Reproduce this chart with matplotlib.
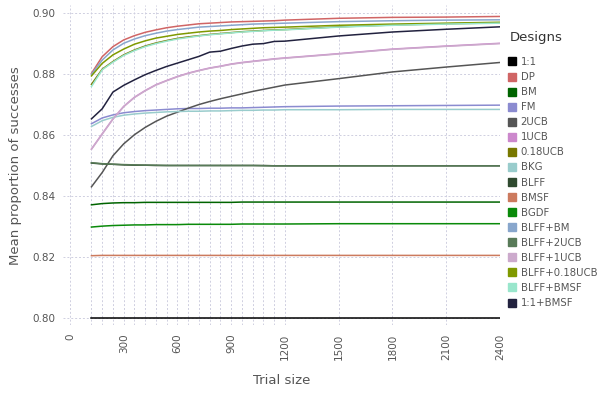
import numpy as np
import matplotlib
matplotlib.use("Agg")
import matplotlib.pyplot as plt
from matplotlib.lines import Line2D

# trial sizes where the designs were evaluated
trial = [120, 180, 240, 300, 360, 420, 480, 540, 600, 660, 720, 780, 840, 900,
         960, 1020, 1080, 1140, 1200, 1500, 1800, 2100, 2400]

one_one = [0.8000] * 23
dp = [0.8803, 0.8858, 0.8891, 0.8913, 0.8927, 0.8938, 0.8946, 0.8953, 0.8958, 0.8962, 0.8966, 0.8968,
      0.8970, 0.8972, 0.8973, 0.8974, 0.8975, 0.8976, 0.8978, 0.8984, 0.8987, 0.8988, 0.8990]
bm = [0.8372, 0.8376, 0.8378, 0.8379, 0.8379, 0.8380, 0.8380, 0.8380, 0.8380, 0.8380, 0.8380, 0.8380,
      0.8380, 0.8380, 0.8381, 0.8381, 0.8381, 0.8381, 0.8381, 0.8381, 0.8381, 0.8381, 0.8381]
fm = [0.8638, 0.8657, 0.8667, 0.8674, 0.8678, 0.8681, 0.8683, 0.8685, 0.8687, 0.8688, 0.8688, 0.8689,
      0.8689, 0.8690, 0.8690, 0.8691, 0.8692, 0.8693, 0.8694, 0.8696, 0.8697, 0.8698, 0.8699]
ucb2 = [0.8431, 0.8478, 0.8533, 0.8572, 0.8602, 0.8626, 0.8646, 0.8663, 0.8676, 0.8689, 0.8701, 0.8711,
        0.8720, 0.8728, 0.8736, 0.8744, 0.8751, 0.8758, 0.8765, 0.8786, 0.8808, 0.8824, 0.8839]
ucb1 = [0.8555, 0.8605, 0.8654, 0.8695, 0.8725, 0.8747, 0.8766, 0.8780, 0.8793, 0.8804, 0.8813, 0.8821,
        0.8827, 0.8834, 0.8839, 0.8843, 0.8847, 0.8851, 0.8854, 0.8868, 0.8883, 0.8893, 0.8902]
ucb018 = [0.8767, 0.8817, 0.8842, 0.8864, 0.8880, 0.8893, 0.8903, 0.8911, 0.8918, 0.8923, 0.8927, 0.8931,
          0.8934, 0.8937, 0.8940, 0.8942, 0.8944, 0.8946, 0.8947, 0.8956, 0.8962, 0.8966, 0.8969]
bkg = [0.8629, 0.8648, 0.8659, 0.8666, 0.8670, 0.8673, 0.8675, 0.8677, 0.8678, 0.8679, 0.8679, 0.8680,
       0.8680, 0.8681, 0.8682, 0.8682, 0.8683, 0.8683, 0.8684, 0.8684, 0.8685, 0.8685, 0.8685]
blff = [0.8509, 0.8506, 0.8505, 0.8503, 0.8502, 0.8502, 0.8501, 0.8501, 0.8501, 0.8501, 0.8501, 0.8501,
        0.8501, 0.8501, 0.8501, 0.8501, 0.8501, 0.8500, 0.8500, 0.8500, 0.8500, 0.8500, 0.8500]
bmsf = [0.8205, 0.8206, 0.8206, 0.8206, 0.8206, 0.8206, 0.8206, 0.8206, 0.8206, 0.8206, 0.8206, 0.8206,
        0.8206, 0.8206, 0.8206, 0.8206, 0.8206, 0.8206, 0.8206, 0.8206, 0.8206, 0.8206, 0.8206]
bgdf = [0.8299, 0.8302, 0.8304, 0.8305, 0.8306, 0.8306, 0.8307, 0.8307, 0.8307, 0.8308, 0.8308, 0.8308,
        0.8308, 0.8308, 0.8309, 0.8309, 0.8309, 0.8309, 0.8309, 0.8310, 0.8310, 0.8310, 0.8310]
blff_bm = [0.8800, 0.8847, 0.8880, 0.8902, 0.8916, 0.8927, 0.8935, 0.8942, 0.8947, 0.8951, 0.8955, 0.8957,
           0.8959, 0.8961, 0.8963, 0.8965, 0.8966, 0.8967, 0.8968, 0.8973, 0.8976, 0.8978, 0.8979]
blff_2ucb = [0.8510, 0.8507, 0.8505, 0.8504, 0.8503, 0.8502, 0.8502, 0.8501, 0.8501, 0.8501, 0.8501, 0.8501,
             0.8501, 0.8501, 0.8501, 0.8501, 0.8500, 0.8500, 0.8500, 0.8500, 0.8500, 0.8500, 0.8500]
blff_1ucb = [0.8554, 0.8604, 0.8653, 0.8694, 0.8724, 0.8746, 0.8765, 0.8779, 0.8792, 0.8803, 0.8812, 0.8820,
             0.8826, 0.8833, 0.8838, 0.8842, 0.8846, 0.8850, 0.8853, 0.8867, 0.8882, 0.8892, 0.8901]
blff_018ucb = [0.8795, 0.8836, 0.8864, 0.8883, 0.8899, 0.8910, 0.8919, 0.8925, 0.8931, 0.8935, 0.8939, 0.8942,
               0.8944, 0.8947, 0.8949, 0.8951, 0.8953, 0.8954, 0.8955, 0.8961, 0.8965, 0.8968, 0.8971]
blff_bmsf = [0.8760, 0.8815, 0.8840, 0.8862, 0.8878, 0.8891, 0.8901, 0.8909, 0.8916, 0.8921, 0.8926, 0.8930,
             0.8933, 0.8936, 0.8939, 0.8941, 0.8943, 0.8945, 0.8946, 0.8955, 0.8961, 0.8965, 0.8968]
one_bmsf = [0.8654, 0.8687, 0.8742, 0.8764, 0.8782, 0.8799, 0.8813, 0.8826, 0.8837, 0.8848, 0.8859, 0.8873,
            0.8876, 0.8885, 0.8893, 0.8899, 0.8901, 0.8908, 0.8909, 0.8926, 0.8939, 0.8948, 0.8956]

designs = ["1:1", "DP", "BM", "FM", "2UCB", "1UCB", "0.18UCB", "BKG", "BLFF", "BMSF", "BGDF",
           "BLFF+BM", "BLFF+2UCB", "BLFF+1UCB", "BLFF+0.18UCB", "BLFF+BMSF", "1:1+BMSF"]
series = [one_one, dp, bm, fm, ucb2, ucb1, ucb018, bkg, blff, bmsf, bgdf,
          blff_bm, blff_2ucb, blff_1ucb, blff_018ucb, blff_bmsf, one_bmsf]
colors = ["#000000", "#d06565", "#006400", "#8b8bd0", "#555555", "#cc88cc", "#787800", "#99cccc",
          "#2f4a2f", "#cc7a5e", "#0a8a0a", "#88a6cc", "#587a58", "#ccaacc", "#7f9900", "#99e6cc", "#22223f"]

grid_c = "#cfcfe0"
txt_c = "#555555"

fig = plt.figure(figsize=(5.98, 3.99), dpi=100)
ax = fig.add_axes([0.105, 0.185, 0.731, 0.802])

for y, lab, c in zip(series, designs, colors):
    ax.plot(trial, y, color=c, lw=1.1, label=lab)

ax.set_xlim(-40, 2400)
ax.set_ylim(0.7977, 0.9027)
ax.set_xticks(np.arange(0, 2401, 300))
ax.set_xticks([0] + trial, minor=True)
ax.set_yticks(np.arange(0.80, 0.901, 0.02))
ax.set_yticklabels([f"{v:.2f}" for v in np.arange(0.80, 0.901, 0.02)])
ax.grid(which="both", axis="x", color=grid_c, ls=(0, (2, 2)), lw=0.7)
ax.grid(which="major", axis="y", color=grid_c, ls=(0, (2, 2)), lw=0.7)
ax.set_axisbelow(True)
for s in ax.spines.values():
    s.set_visible(False)
ax.tick_params(which="both", length=0, colors=txt_c, labelsize=7.5)
ax.tick_params(axis="x", rotation=90, pad=6)
ax.tick_params(axis="y", pad=5)

ax.set_xlabel("Trial size", color=txt_c, fontsize=9.5, labelpad=10)
ax.set_ylabel("Mean proportion of successes", color=txt_c, fontsize=9.5, labelpad=8)

fig.text(510 / 598, 1 - 38 / 399, "Designs", color="#333333", fontsize=9.5, va="center", ha="left")
handles = [Line2D([], [], marker="s", ls="none", color=c, markersize=5.5) for c in colors]
leg = fig.legend(handles, designs, loc="upper left", bbox_to_anchor=(507 / 598, 1 - 57 / 399),
                 frameon=False, fontsize=7.3, handletextpad=0.35, labelspacing=0.5,
                 borderaxespad=0, borderpad=0, handlelength=1.0)
for t in leg.get_texts():
    t.set_color(txt_c)

plt.savefig("out.png", dpi=100)
